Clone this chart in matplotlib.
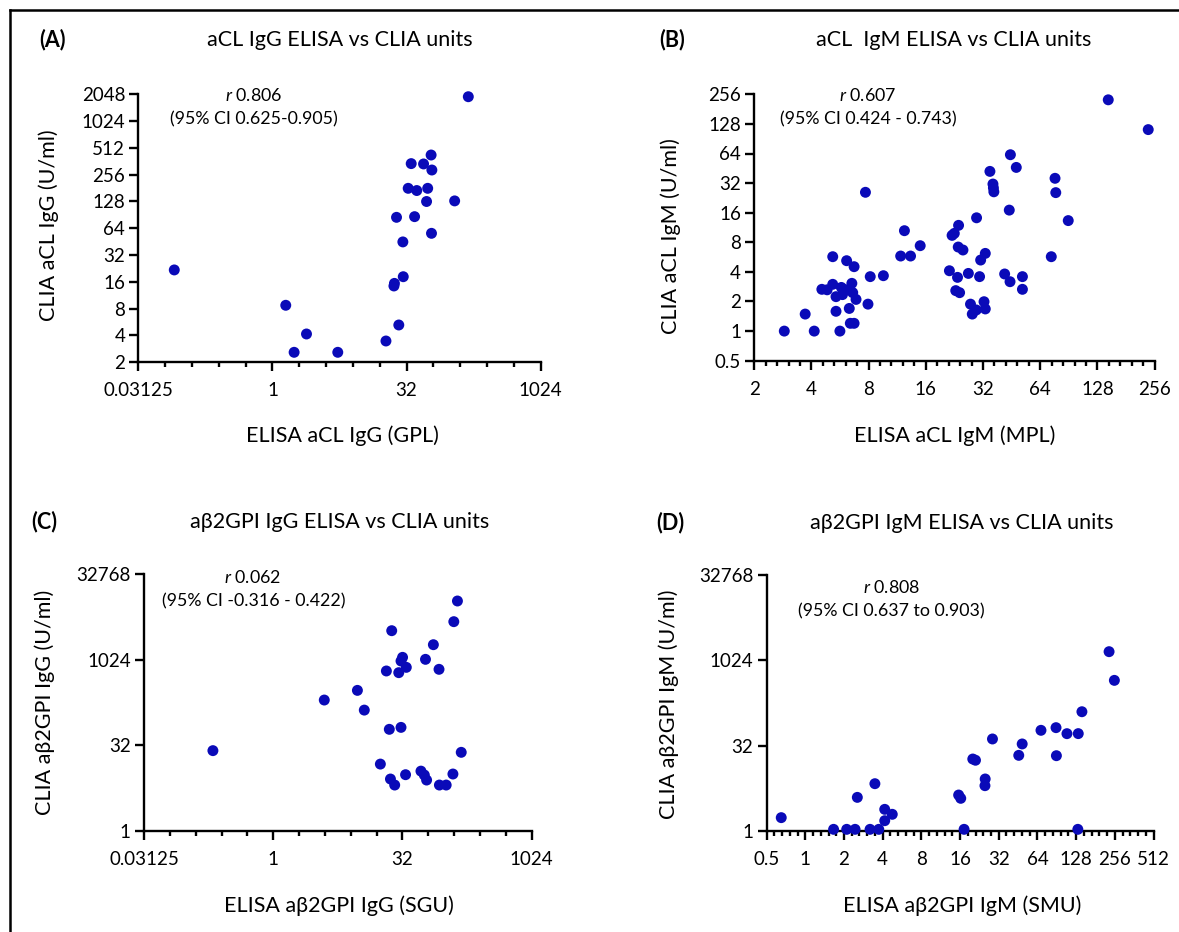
import matplotlib
matplotlib.use("Agg")
import matplotlib.pyplot as plt
import numpy as np
from matplotlib.ticker import FixedLocator, FixedFormatter, NullFormatter
from matplotlib.lines import Line2D

plt.rcParams['font.family'] = ['Lato', 'DejaVu Sans']
plt.rcParams['mathtext.fontset'] = 'custom'
plt.rcParams['mathtext.rm'] = 'Lato'
plt.rcParams['mathtext.it'] = 'Lato:italic'

W, H = 1179, 932
DOT = '#0a0ab8'

# (A) aCL IgG
a_elisa = [0.079, 1.41, 1.75, 2.41, 5.41, 18.8, 26.2, 23.1, 23.4, 29.4, 29.1, 24.7,
           39.4, 33.4, 41.7, 36.1, 49.7, 60.4, 61.6, 55.3, 53.7, 61.0, 111, 158]
a_clia = [21.8, 8.74, 2.59, 4.16, 2.59, 3.47, 5.25, 14.4, 15.4, 18.3, 45, 85,
          86.5, 180, 170, 341, 338, 426, 289, 180, 128, 56.2, 130, 1924]

# (B) aCL IgM
b_elisa = [2.88, 3.71, 4.14, 4.54, 4.84, 5.18, 5.18, 5.39, 5.39, 5.65, 5.75, 5.83,
           6.05, 6.13, 6.33, 6.53, 6.6, 6.71, 6.87, 6.41, 6.71, 7.70, 7.94, 8.16,
           9.57, 11.8, 12.35, 13.3, 14.95, 21.3, 22.0, 22.6, 23.8, 23.7, 25.1, 23.5,
           23.0, 24.1, 26.8, 27.5, 28.1, 29.5, 29.6, 30.7, 31.1, 32.9, 32.4, 32.9,
           34.8, 36.1, 36.3, 36.5, 41.6, 44.4, 44.0, 44.6, 47.9, 51.6, 51.6, 73.2,
           76.6, 77.3, 89.9, 146, 237]
b_clia = [1.0, 1.49, 1.0, 2.66, 2.63, 5.71, 2.99, 2.24, 1.59, 1.0, 2.78, 2.35,
          2.63, 5.2, 1.70, 3.06, 2.46, 4.52, 2.10, 1.20, 1.20, 25.8, 1.88, 3.58,
          3.66, 5.8, 10.5, 5.8, 7.39, 4.11, 9.41, 9.86, 11.9, 7.16, 6.68, 3.52,
          2.58, 2.46, 3.86, 1.88, 1.49, 1.64, 14.2, 3.58, 5.28, 6.17, 1.99, 1.68,
          42.1, 31.3, 28.6, 26.1, 3.81, 3.18, 17.0, 62.2, 46.2, 3.58, 2.66, 5.71,
          35.8, 25.6, 13.3, 225, 112]

# (C) ab2GPI IgG
c_elisa = [0.198, 3.93, 9.56, 11.5, 17.7, 20.8, 22.5, 24.0, 23.2, 26.0, 29.0, 30.8,
           30.8, 32.1, 35.5, 34.8, 52.6, 57.6, 61.2, 59.4, 73.4, 85.4, 86.3, 103.5,
           124, 127, 140, 155]
c_clia = [25.7, 200, 296, 133, 14.9, 650, 61, 3330, 8.13, 6.37, 607, 66,
          974, 1130, 753, 9.69, 11.2, 9.56, 7.8, 1042, 1887, 695, 6.37, 6.37,
          9.96, 4800, 11100, 24]

# (D) ab2GPI IgM
d_elisa = [0.65, 1.66, 2.10, 2.44, 2.54, 3.19, 3.48, 3.73, 4.15, 4.15, 4.75, 15.6,
           16.2, 17.2, 20.1, 21.1, 25.1, 25.0, 28.6, 45.8, 48.7, 68.2, 89.3, 89.9,
           108.6, 133, 132, 142, 231, 254]
d_clia = [1.72, 1.07, 1.07, 1.07, 3.92, 1.07, 6.83, 1.07, 2.41, 1.52, 1.97, 4.31,
          3.77, 1.07, 18.6, 17.7, 8.27, 6.3, 42, 21.6, 34.3, 59.7, 66.5, 21.3,
          52.1, 52.2, 1.07, 127, 1456, 454]

a_xticks = [0.03125, 1, 32, 1024]
a_xlabels = ['0.03125', '1', '32', '1024']
a_yticks = [2, 4, 8, 16, 32, 64, 128, 256, 512, 1024, 2048]
a_ylabels = ['2', '4', '8', '16', '32', '64', '128', '256', '512', '1024', '2048']
b_xticks = [2, 4, 8, 16, 32, 64, 128, 256]
b_xlabels = ['2', '4', '8', '16', '32', '64', '128', '256']
b_yticks = [0.5, 1, 2, 4, 8, 16, 32, 64, 128, 256]
b_ylabels = ['0.5', '1', '2', '4', '8', '16', '32', '64', '128', '256']
c_xticks = [0.03125, 1, 32, 1024]
c_xlabels = ['0.03125', '1', '32', '1024']
c_yticks = [1, 32, 1024, 32768]
c_ylabels = ['1', '32', '1024', '32768']
d_xticks = [0.5, 1, 2, 4, 8, 16, 32, 64, 128, 256, 512]
d_xlabels = ['0.5', '1', '2', '4', '8', '16', '32', '64', '128', '256', '512']
d_yticks = [1, 32, 1024, 32768]
d_ylabels = ['1', '32', '1024', '32768']

fig = plt.figure(figsize=(W / 100, H / 100), dpi=100)


def px_axes(left, top, right, bottom):
    return fig.add_axes([left / W, 1 - bottom / H, (right - left) / W, (bottom - top) / H])


def ftext(x, y, s, **kw):
    fig.text(x / W, 1 - y / H, s, ha='center', va='center', **kw)


def panel(box, xs, ys, xt, xl, yt, yl, xminor):
    ax = px_axes(*box)
    ax.set_xscale('log', base=2)
    ax.set_yscale('log', base=2)
    ax.set_xlim(xt[0], xt[-1])
    ax.set_ylim(yt[0], yt[-1])
    ax.scatter(xs, ys, s=62, color=DOT, edgecolors='none', zorder=3, clip_on=False)
    for side in ['top', 'right']:
        ax.spines[side].set_visible(False)
    for side in ['left', 'bottom']:
        ax.spines[side].set_linewidth(1.7)
    ax.xaxis.set_major_locator(FixedLocator(xt))
    ax.xaxis.set_major_formatter(FixedFormatter(xl))
    ax.yaxis.set_major_locator(FixedLocator(yt))
    ax.yaxis.set_major_formatter(FixedFormatter(yl))
    ax.xaxis.set_minor_locator(FixedLocator(xminor))
    ax.xaxis.set_minor_formatter(NullFormatter())
    ax.yaxis.set_minor_locator(FixedLocator([]))
    ax.tick_params(which='major', length=6.5, width=1.7, labelsize=13.5, color='black')
    ax.tick_params(axis='x', which='major', pad=8)
    ax.tick_params(axis='y', which='major', pad=3)
    ax.tick_params(which='minor', length=3.6, width=1.7)
    ax.set_facecolor('none')
    return ax


lo, hi = np.log2(a_xticks[0]), np.log2(a_xticks[-1])
a_minor = 2.0 ** np.arange(lo, hi + 1)
lo, hi = np.log2(b_xticks[0]), np.log2(b_xticks[-1])
b_minor = 2.0 ** np.arange(lo, hi + 0.01, 0.2)
lo, hi = np.log2(d_xticks[0]), np.log2(d_xticks[-1])
d_minor = 2.0 ** np.arange(lo, hi + 0.01, 0.2)

panel((138.4, 94.3, 540.6, 362.3), a_elisa, a_clia, a_xticks, a_xlabels, a_yticks, a_ylabels, a_minor)
panel((754.2, 94.3, 1154.6, 360.7), b_elisa, b_clia, b_xticks, b_xlabels, b_yticks, b_ylabels, b_minor)
panel((144.1, 574.3, 531.6, 830.7), c_elisa, c_clia, c_xticks, c_xlabels, c_yticks, c_ylabels, a_minor)
panel((766.6, 575, 1153.5, 831), d_elisa, d_clia, d_xticks, d_xlabels, d_yticks, d_ylabels, d_minor)

# panel letters and titles
ftext(52.7, 40, '(A)', fontsize=15.5, fontweight='bold')
ftext(340, 40, 'aCL IgG ELISA vs CLIA units', fontsize=15.5)
ftext(672, 40, '(B)', fontsize=15.5, fontweight='bold')
ftext(953.7, 40, 'aCL  IgM ELISA vs CLIA units', fontsize=15.5)
ftext(44.4, 521.7, '(C)', fontsize=15.5, fontweight='bold')
ftext(339.4, 521.7, 'a\u03b22GPI IgG ELISA vs CLIA units', fontsize=15.5)
ftext(670.2, 523, '(D)', fontsize=15.5, fontweight='bold')
ftext(961.5, 523, 'a\u03b22GPI IgM ELISA vs CLIA units', fontsize=15.5)

# axis labels
ftext(342, 436, 'ELISA aCL IgG (GPL)', fontsize=15.5)
ftext(48.9, 225, 'CLIA aCL IgG (U/ml)', fontsize=15.5, rotation=90)
ftext(954.4, 436, 'ELISA aCL IgM (MPL)', fontsize=15.5)
ftext(670.8, 235.8, 'CLIA aCL IgM (U/ml)', fontsize=15.5, rotation=90)
ftext(339.3, 906, 'ELISA a\u03b22GPI IgG (SGU)', fontsize=15.5)
ftext(45.1, 702.5, 'CLIA a\u03b22GPI IgG (U/ml)', fontsize=15.5, rotation=90)
ftext(961.7, 906, 'ELISA a\u03b22GPI IgM (SMU)', fontsize=15.5)
ftext(668.9, 704, 'CLIA a\u03b22GPI IgM (U/ml)', fontsize=15.5, rotation=90)

# correlation notes
ftext(253.6, 95.7, '$\\it{r}$ 0.806', fontsize=12.8)
ftext(254, 119, '(95% CI 0.625-0.905)', fontsize=12.8)
ftext(868, 95.7, '$\\it{r}$ 0.607', fontsize=12.8)
ftext(868, 119, '(95% CI 0.424 - 0.743)', fontsize=12.8)
ftext(253, 577.7, '$\\it{r}$ 0.062', fontsize=12.8)
ftext(253.6, 601.7, '(95% CI -0.316 - 0.422)', fontsize=12.8)
ftext(891.5, 587.3, '$\\it{r}$ 0.808', fontsize=12.8)
ftext(891.7, 611, '(95% CI 0.637 to 0.903)', fontsize=12.8)

# outer frame (top and left edges)
fig.add_artist(Line2D([10 / W, 1], [1 - 10 / H, 1 - 10 / H], color='black', lw=1.8))
fig.add_artist(Line2D([10 / W, 10 / W], [0, 1 - 10 / H], color='black', lw=1.8))

fig.savefig('out.png', dpi=100)
